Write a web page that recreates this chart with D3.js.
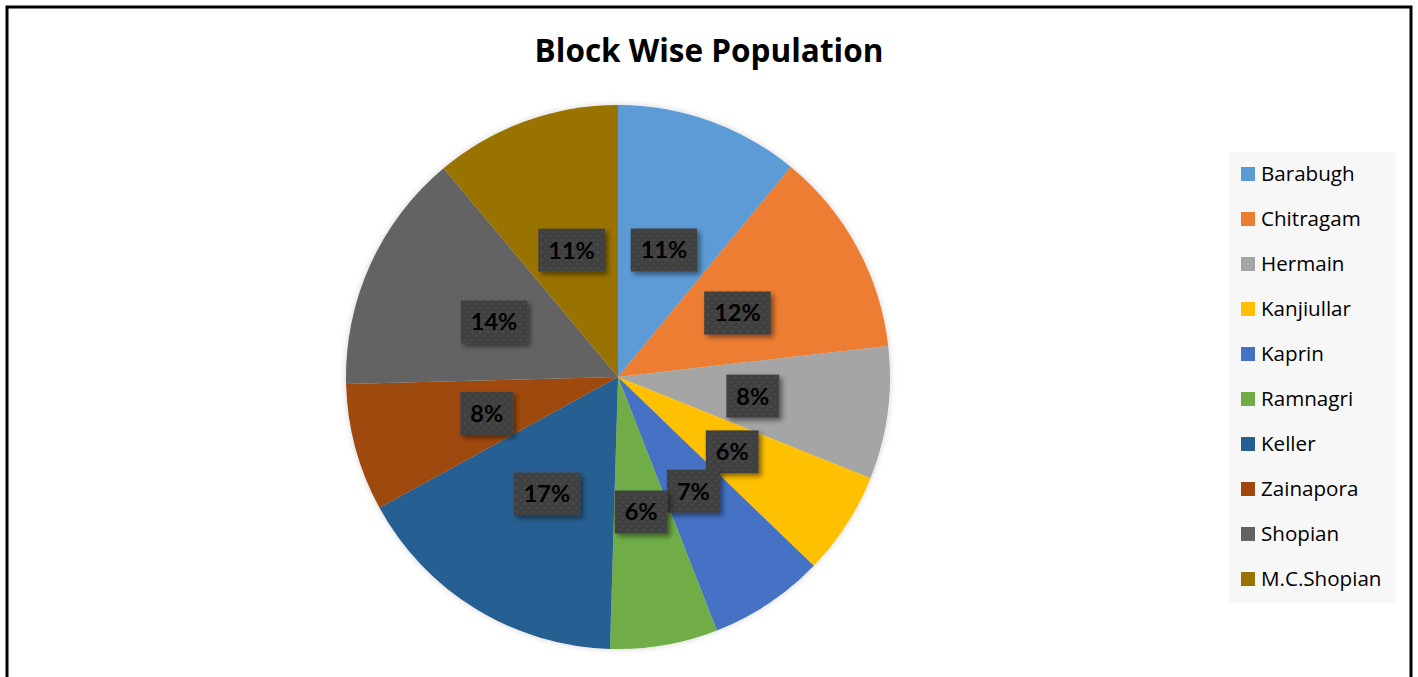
<!DOCTYPE html>
<html><head><meta charset="utf-8">
<script src="https://cdn.jsdelivr.net/npm/d3@7"></script>
<style>
html,body{margin:0;padding:0;background:#fff;}
svg{display:block;}
</style></head>
<body>
<svg id="chart" width="1418" height="677"></svg>
<script>
const categories = ["Barabugh","Chitragam","Hermain","Kanjiullar","Kaprin","Ramnagri","Keller","Zainapora","Shopian","M.C.Shopian"];
const shares = [10.96, 12.22, 7.89, 6.14, 6.87, 6.39, 16.55, 7.57, 14.33, 11.08];
const colors = ["#5B9BD5","#ED7D31","#A5A5A5","#FFC000","#4472C4","#70AD47","#255E91","#9E480E","#636363","#997300"];
const title = "Block Wise Population";

const svg = d3.select("#chart");
const W = 1418, H = 677;

const defs = svg.append("defs");
const pat = defs.append("pattern").attr("id","dots").attr("patternUnits","userSpaceOnUse")
  .attr("width",8).attr("height",8);
pat.append("rect").attr("width",8).attr("height",8).attr("fill","#404040");
pat.append("circle").attr("cx",2).attr("cy",2).attr("r",1.3).attr("fill","#4d4d4d");
pat.append("circle").attr("cx",6).attr("cy",6).attr("r",1.3).attr("fill","#4a4a4a");
const f = defs.append("filter").attr("id","shadow").attr("x","-30%").attr("y","-30%").attr("width","170%").attr("height","170%");
f.append("feDropShadow").attr("dx",3).attr("dy",3).attr("stdDeviation",2.5).attr("flood-color","#000").attr("flood-opacity",0.45);
const f2 = defs.append("filter").attr("id","pieShadow").attr("x","-10%").attr("y","-10%").attr("width","120%").attr("height","120%");
f2.append("feDropShadow").attr("dx",0).attr("dy",0).attr("stdDeviation",3).attr("flood-color","#000").attr("flood-opacity",0.18);

// outer border
svg.append("rect").attr("x",7).attr("y",7).attr("width",1404).attr("height",700)
  .attr("fill","#fff").attr("stroke","#000").attr("stroke-width",3);

svg.append("text").attr("x",709).attr("y",62).attr("text-anchor","middle")
  .attr("font-family","Open Sans").attr("font-weight","bold").attr("font-size",31.5)
  .attr("fill","#000").text(title);

const cx = 618, cy = 377, R = 272;
const data = categories.map((c,i)=>({name:c, value:shares[i], color:colors[i]}));
const pie = d3.pie().value(d=>d.value).sort(null);
const arcs = pie(data);
const arc = d3.arc().innerRadius(0).outerRadius(R);
const g = svg.append("g").attr("transform",`translate(${cx},${cy})`);
g.append("g").attr("filter","url(#pieShadow)").selectAll("path").data(arcs).join("path")
  .attr("d",arc).attr("fill",d=>d.data.color);

const total = d3.sum(shares);
const lab = g.selectAll("g.lab").data(arcs).join("g").attr("class","lab")
  .attr("transform",d=>{const c=arc.centroid(d);return `translate(${c[0]},${c[1]+1})`;});
lab.each(function(d){
  const s = d3.select(this);
  const t = Math.round(d.data.value/total*100)+"%";
  const txt = s.append("text").attr("text-anchor","middle").attr("dy","0.36em")
    .attr("font-family","Lato").attr("font-weight","bold").attr("font-size",23.5)
    .attr("fill","#000").text(t);
  const w = txt.node().getComputedTextLength()+20;
  s.insert("rect","text").attr("x",-w/2).attr("y",-21.5).attr("width",w).attr("height",43)
    .attr("fill","url(#dots)").attr("filter","url(#shadow)");
});

// legend
const lg = svg.append("g");
lg.append("rect").attr("x",1229).attr("y",152).attr("width",167).attr("height",451).attr("fill","#f7f7f7");
const items = lg.selectAll("g.item").data(data).join("g").attr("class","item")
  .attr("transform",(d,i)=>`translate(1241,${174+i*45})`);
items.append("rect").attr("x",0).attr("y",-7).attr("width",14).attr("height",14).attr("fill",d=>d.color);
items.append("text").attr("x",20).attr("y",0).attr("dy","0.35em")
  .attr("font-family","Open Sans").attr("font-size",20.6).attr("fill","#000").text(d=>d.name);
</script>
</body></html>
